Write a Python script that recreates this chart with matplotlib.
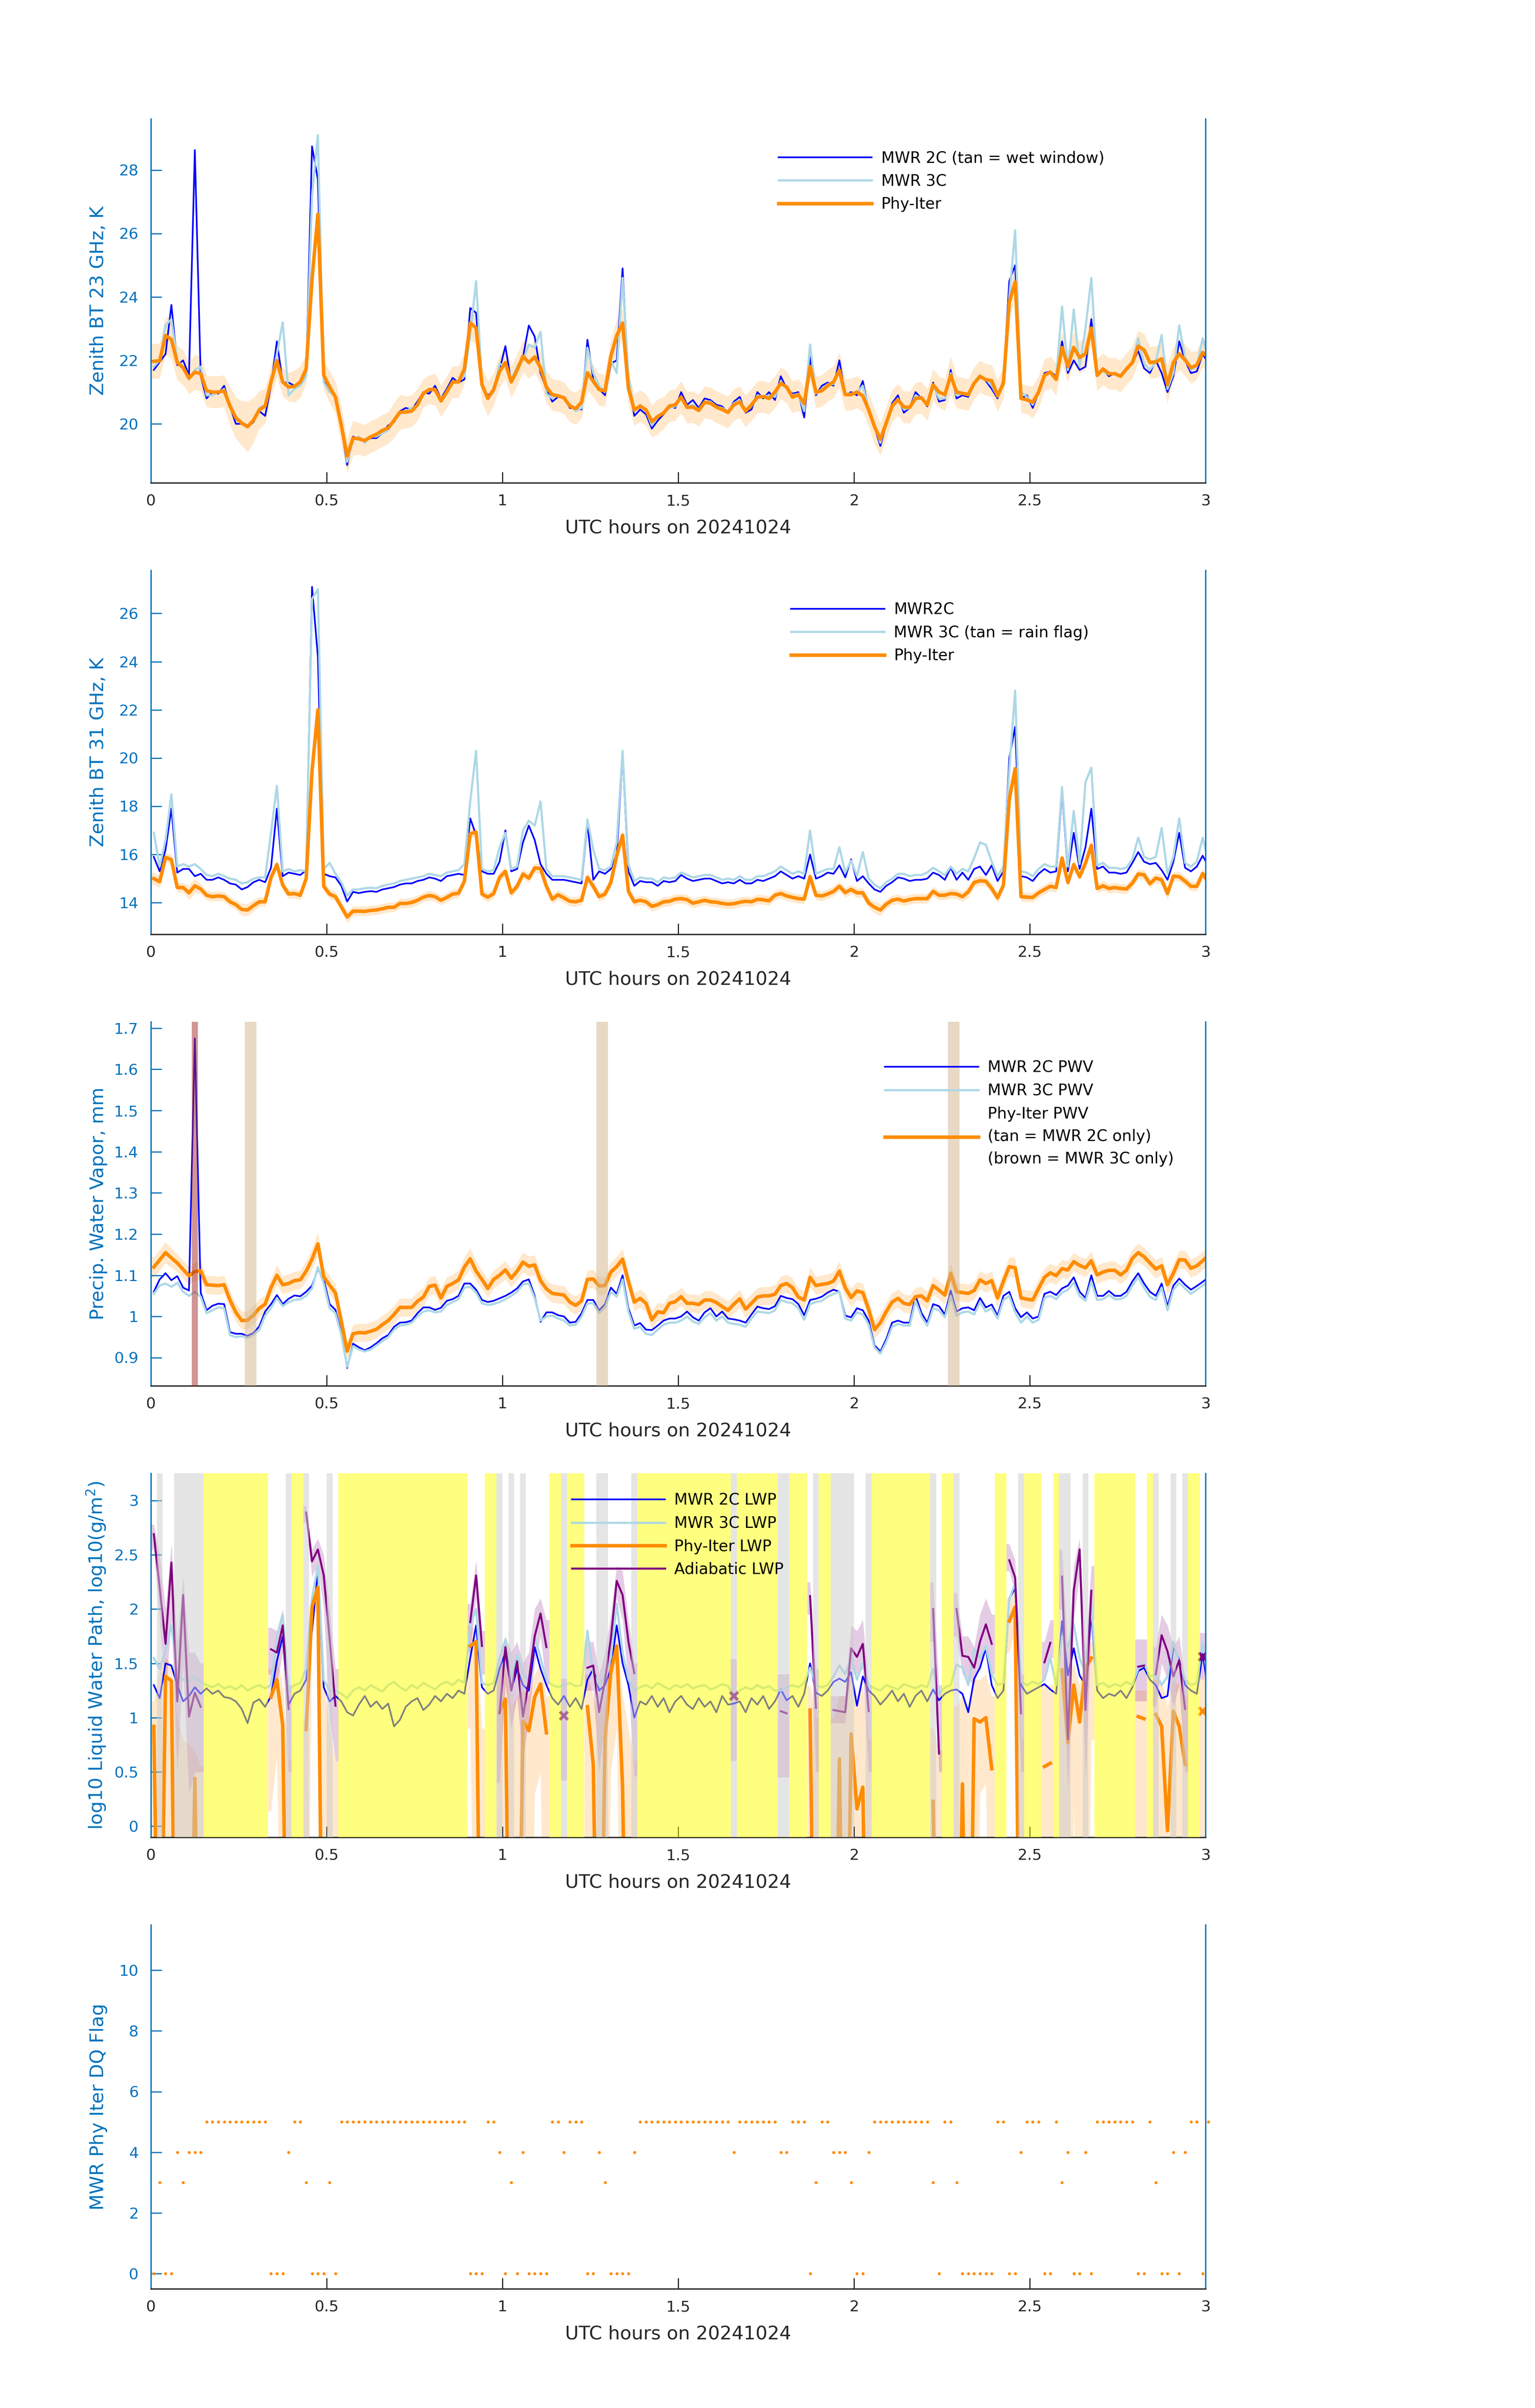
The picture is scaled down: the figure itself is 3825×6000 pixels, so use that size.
import numpy as np
import matplotlib
matplotlib.use("Agg")
import matplotlib.pyplot as plt

nan = np.nan

# one sample per minute, centred on the half minute, 00:00-03:00 UTC
MINUTE = np.arange(181)
HOURS = (MINUTE + 0.5) / 60.0
HALF = 0.5 / 60.0

# ---------------- panel 1: 23 GHz brightness temperature (K)
BT23_PHY = [
    21.97, 21.99, 22.78, 22.66, 21.93, 21.77, 21.44, 21.63, 21.58, 21.04,
    21.00, 21.00, 21.04, 20.56, 20.19, 20.02, 19.91, 20.11, 20.44, 20.56,
    21.32, 21.99, 21.32, 21.16, 21.18, 21.32, 21.73, 24.55, 26.61, 21.53,
    21.16, 20.84, 19.95, 18.98, 19.55, 19.53, 19.47, 19.59, 19.67, 19.79,
    19.87, 20.11, 20.37, 20.37, 20.40, 20.60, 20.96, 21.08, 21.08, 20.72,
    21.00, 21.32, 21.32, 21.73, 23.18, 23.02, 21.24, 20.80, 21.08, 21.65,
    21.93, 21.32, 21.69, 22.13, 21.93, 22.11, 21.77, 21.16, 20.92, 20.88,
    20.82, 20.56, 20.48, 20.68, 21.61, 21.34, 21.08, 21.04, 22.13, 22.78,
    23.18, 21.12, 20.44, 20.56, 20.44, 20.07, 20.23, 20.34, 20.56, 20.60,
    20.84, 20.52, 20.53, 20.42, 20.68, 20.65, 20.53, 20.45, 20.36, 20.60,
    20.69, 20.40, 20.60, 20.84, 20.86, 20.80, 21.00, 21.28, 21.16, 20.84,
    20.92, 20.64, 21.81, 21.00, 21.04, 21.20, 21.32, 21.69, 20.92, 20.92,
    21.00, 20.88, 20.44, 19.91, 19.51, 20.03, 20.56, 20.76, 20.53, 20.52,
    20.80, 20.82, 20.60, 21.23, 21.00, 20.92, 21.53, 21.00, 20.96, 20.92,
    21.28, 21.50, 21.39, 21.36, 20.88, 21.28, 23.83, 24.47, 20.80, 20.76,
    20.68, 21.00, 21.53, 21.63, 21.40, 22.41, 21.81, 22.41, 22.09, 22.21,
    23.02, 21.53, 21.73, 21.58, 21.58, 21.50, 21.73, 21.93, 22.45, 22.33,
    21.93, 21.95, 22.05, 21.24, 21.93, 22.21, 22.01, 21.77, 21.85, 22.25,
    22.09,
]
BT23_ERR = [
    0.55, 0.55, 0.60, 0.60, 0.55, 0.55, 0.50, 0.55, 0.55, 0.50,
    0.50, 0.50, 0.50, 0.60, 0.65, 0.70, 0.80, 0.70, 0.60, 0.55,
    0.50, 0.50, 0.45, 0.45, 0.50, 0.50, 0.45, 0.40, 0.35, 0.45,
    0.50, 0.50, 0.60, 0.55, 0.55, 0.50, 0.50, 0.50, 0.50, 0.50,
    0.50, 0.55, 0.55, 0.50, 0.50, 0.50, 0.45, 0.45, 0.50, 0.50,
    0.50, 0.50, 0.50, 0.50, 0.55, 0.50, 0.55, 0.55, 0.50, 0.50,
    0.50, 0.50, 0.50, 0.50, 0.50, 0.50, 0.50, 0.50, 0.50, 0.50,
    0.50, 0.50, 0.50, 0.50, 0.55, 0.50, 0.50, 0.50, 0.50, 0.50,
    0.45, 0.50, 0.50, 0.50, 0.50, 0.50, 0.55, 0.50, 0.50, 0.50,
    0.50, 0.50, 0.50, 0.50, 0.50, 0.50, 0.50, 0.50, 0.50, 0.50,
    0.50, 0.50, 0.50, 0.50, 0.50, 0.50, 0.50, 0.50, 0.50, 0.50,
    0.50, 0.50, 0.45, 0.50, 0.50, 0.50, 0.50, 0.55, 0.50, 0.50,
    0.50, 0.50, 0.50, 0.55, 0.50, 0.50, 0.50, 0.50, 0.50, 0.50,
    0.50, 0.50, 0.50, 0.50, 0.50, 0.50, 0.60, 0.50, 0.50, 0.50,
    0.50, 0.50, 0.50, 0.50, 0.50, 0.50, 0.50, 0.45, 0.45, 0.45,
    0.50, 0.50, 0.50, 0.50, 0.50, 0.50, 0.50, 0.50, 0.50, 0.50,
    0.50, 0.50, 0.50, 0.50, 0.50, 0.50, 0.50, 0.50, 0.50, 0.50,
    0.50, 0.50, 0.50, 0.60, 0.50, 0.50, 0.50, 0.50, 0.45, 0.45,
    0.45,
]
BT23_2C = [
    21.70, 21.95, 22.20, 23.75, 21.85, 22.00, 21.53, 28.63, 21.50, 20.80,
    21.00, 20.95, 21.20, 20.55, 20.00, 20.00, 19.90, 20.05, 20.40, 20.25,
    21.20, 22.60, 21.30, 21.30, 21.20, 21.30, 21.50, 28.75, 27.70, 21.40,
    21.10, 20.90, 19.90, 18.70, 19.60, 19.50, 19.45, 19.55, 19.55, 19.70,
    19.95, 20.05, 20.40, 20.50, 20.45, 20.70, 21.00, 20.95, 21.20, 20.80,
    21.10, 21.45, 21.30, 21.40, 23.65, 23.50, 21.20, 20.90, 21.05, 21.70,
    22.45, 21.30, 21.80, 22.10, 23.10, 22.75, 21.60, 21.10, 20.70, 20.85,
    20.85, 20.50, 20.50, 20.45, 22.65, 21.40, 21.10, 20.90, 21.90, 22.00,
    24.90, 21.30, 20.25, 20.45, 20.30, 19.85, 20.10, 20.30, 20.55, 20.50,
    21.00, 20.60, 20.75, 20.50, 20.80, 20.75, 20.60, 20.55, 20.35, 20.70,
    20.85, 20.35, 20.45, 21.00, 20.80, 21.00, 20.75, 21.50, 21.10, 20.95,
    21.00, 20.20, 22.10, 20.90, 21.20, 21.30, 21.20, 22.00, 20.90, 21.00,
    20.90, 21.35, 20.40, 19.90, 19.30, 20.00, 20.65, 20.90, 20.35, 20.50,
    21.00, 20.80, 20.55, 21.30, 20.70, 20.75, 21.70, 20.80, 20.90, 20.85,
    21.30, 21.50, 21.35, 21.10, 20.80, 21.40, 24.50, 25.00, 20.80, 20.90,
    20.50, 21.00, 21.60, 21.65, 21.50, 22.60, 21.60, 22.00, 21.70, 21.80,
    23.30, 21.50, 21.70, 21.50, 21.60, 21.50, 21.70, 21.90, 22.30, 21.75,
    21.60, 22.00, 21.60, 21.00, 21.50, 22.60, 22.00, 21.60, 21.65, 22.20,
    21.90,
]
BT23_3C = [
    21.80, 22.00, 23.10, 23.30, 22.00, 21.80, 21.40, 21.70, 21.80, 20.90,
    20.90, 21.00, 21.10, 20.60, 20.20, 20.05, 19.95, 20.10, 20.50, 20.60,
    21.30, 22.20, 23.20, 20.90, 21.10, 21.20, 21.50, 27.20, 29.10, 21.30,
    21.00, 20.90, 20.00, 18.80, 19.50, 19.60, 19.40, 19.60, 19.60, 19.70,
    19.80, 20.10, 20.30, 20.40, 20.50, 20.60, 20.90, 21.10, 21.10, 20.80,
    21.00, 21.30, 21.35, 21.50, 22.80, 24.50, 21.30, 20.80, 21.00, 21.90,
    21.80, 21.40, 21.80, 22.00, 22.50, 22.40, 22.90, 20.95, 20.80, 20.90,
    20.80, 20.60, 20.40, 20.50, 22.40, 21.60, 21.20, 21.00, 22.00, 21.60,
    24.60, 21.50, 20.40, 20.60, 20.40, 19.95, 20.20, 20.35, 20.50, 20.55,
    20.85, 20.55, 20.60, 20.45, 20.70, 20.70, 20.55, 20.50, 20.40, 20.65,
    20.75, 20.45, 20.55, 20.90, 20.85, 20.90, 20.85, 21.35, 21.10, 20.90,
    20.95, 20.40, 22.50, 20.95, 21.10, 21.25, 21.25, 21.70, 20.95, 20.95,
    21.00, 21.20, 20.45, 19.95, 19.40, 20.05, 20.60, 20.80, 20.45, 20.50,
    20.90, 20.80, 20.60, 21.20, 20.80, 20.80, 21.60, 20.90, 20.95, 20.90,
    21.30, 21.45, 21.40, 21.20, 20.85, 21.35, 24.00, 26.10, 21.00, 20.85,
    20.60, 21.00, 21.55, 21.60, 21.45, 23.70, 21.70, 23.60, 21.80, 23.00,
    24.60, 21.60, 21.65, 21.55, 21.60, 21.50, 21.75, 21.95, 22.70, 21.90,
    21.70, 21.95, 22.80, 21.10, 21.60, 23.10, 22.10, 21.70, 21.80, 22.70,
    22.00,
]

# ---------------- panel 2: 31 GHz brightness temperature (K)
BT31_PHY = [
    15.00, 14.87, 15.88, 15.79, 14.63, 14.63, 14.41, 14.70, 14.57, 14.31,
    14.25, 14.28, 14.25, 14.04, 13.92, 13.72, 13.70, 13.88, 14.04, 14.04,
    15.05, 15.58, 14.73, 14.36, 14.38, 14.31, 15.00, 19.46, 22.00, 14.68,
    14.36, 14.25, 13.83, 13.41, 13.65, 13.65, 13.64, 13.68, 13.70, 13.75,
    13.81, 13.81, 13.97, 13.97, 14.01, 14.10, 14.23, 14.30, 14.25, 14.10,
    14.22, 14.36, 14.39, 14.89, 16.86, 16.93, 14.36, 14.23, 14.38, 15.05,
    15.30, 14.41, 14.68, 15.19, 15.02, 15.44, 15.42, 14.68, 14.15, 14.33,
    14.20, 14.06, 14.04, 14.10, 15.05, 14.68, 14.25, 14.36, 14.84, 15.95,
    16.80, 14.47, 14.04, 14.10, 14.04, 13.85, 13.92, 14.04, 14.06, 14.15,
    14.17, 14.13, 13.98, 14.04, 14.10, 14.04, 14.02, 13.97, 13.94, 13.96,
    14.02, 14.06, 14.04, 14.14, 14.12, 14.08, 14.31, 14.38, 14.28, 14.22,
    14.17, 14.15, 15.08, 14.31, 14.28, 14.36, 14.47, 14.68, 14.42, 14.55,
    14.41, 14.41, 13.99, 13.81, 13.70, 13.94, 14.10, 14.15, 14.07, 14.13,
    14.17, 14.17, 14.17, 14.47, 14.31, 14.31, 14.38, 14.36, 14.25, 14.45,
    14.84, 14.91, 14.89, 14.59, 14.20, 14.73, 18.29, 19.56, 14.25, 14.23,
    14.22, 14.41, 14.55, 14.68, 14.63, 15.85, 14.84, 15.58, 15.08, 15.64,
    16.38, 14.59, 14.70, 14.59, 14.63, 14.59, 14.57, 14.81, 15.19, 15.16,
    14.79, 15.02, 14.95, 14.38, 15.10, 15.08, 14.89, 14.68, 14.68, 15.21,
    14.84,
]
BT31_ERR = [
    0.25, 0.25, 0.20, 0.20, 0.20, 0.20, 0.30, 0.30, 0.20, 0.20,
    0.20, 0.20, 0.20, 0.20, 0.20, 0.25, 0.25, 0.25, 0.20, 0.20,
    0.20, 0.20, 0.20, 0.20, 0.20, 0.20, 0.20, 0.20, 0.20, 0.20,
    0.20, 0.20, 0.20, 0.25, 0.20, 0.20, 0.20, 0.20, 0.20, 0.20,
    0.20, 0.20, 0.20, 0.20, 0.20, 0.20, 0.20, 0.20, 0.20, 0.20,
    0.20, 0.20, 0.20, 0.20, 0.20, 0.20, 0.20, 0.20, 0.20, 0.20,
    0.20, 0.20, 0.20, 0.20, 0.20, 0.20, 0.20, 0.20, 0.20, 0.20,
    0.20, 0.20, 0.20, 0.20, 0.20, 0.20, 0.20, 0.20, 0.20, 0.20,
    0.20, 0.20, 0.20, 0.20, 0.20, 0.20, 0.20, 0.20, 0.20, 0.20,
    0.20, 0.20, 0.20, 0.20, 0.20, 0.20, 0.20, 0.20, 0.20, 0.20,
    0.20, 0.20, 0.20, 0.20, 0.20, 0.20, 0.20, 0.20, 0.20, 0.20,
    0.20, 0.20, 0.20, 0.20, 0.20, 0.20, 0.20, 0.20, 0.20, 0.20,
    0.20, 0.20, 0.20, 0.25, 0.25, 0.20, 0.20, 0.20, 0.20, 0.20,
    0.20, 0.20, 0.20, 0.20, 0.20, 0.20, 0.20, 0.20, 0.20, 0.25,
    0.20, 0.20, 0.20, 0.20, 0.20, 0.20, 0.20, 0.20, 0.20, 0.20,
    0.20, 0.20, 0.20, 0.20, 0.20, 0.20, 0.20, 0.20, 0.20, 0.20,
    0.20, 0.20, 0.20, 0.20, 0.20, 0.20, 0.20, 0.20, 0.20, 0.20,
    0.20, 0.20, 0.20, 0.25, 0.20, 0.20, 0.20, 0.20, 0.20, 0.20,
    0.20,
]
BT31_2C = [
    15.90, 15.30, 16.20, 17.90, 15.25, 15.40, 15.40, 15.10, 15.20, 14.95,
    14.95, 15.05, 14.95, 14.80, 14.75, 14.55, 14.65, 14.85, 14.95, 14.85,
    15.45, 17.90, 15.10, 15.25, 15.20, 15.15, 15.35, 27.10, 24.20, 15.20,
    15.10, 15.05, 14.70, 14.05, 14.45, 14.40, 14.45, 14.48, 14.45, 14.55,
    14.60, 14.65, 14.75, 14.80, 14.80, 14.90, 14.95, 15.05, 15.00, 14.90,
    15.10, 15.15, 15.20, 15.15, 17.50, 16.80, 15.30, 15.20, 15.20, 15.70,
    17.00, 15.30, 15.40, 16.50, 17.20, 16.60, 15.60, 15.20, 14.95, 14.95,
    14.95, 14.90, 14.85, 14.80, 17.30, 14.95, 15.30, 15.20, 15.40, 16.00,
    20.20, 15.30, 14.70, 14.90, 14.85, 14.85, 14.70, 14.90, 14.85, 14.90,
    15.15, 15.00, 14.90, 14.95, 15.00, 15.00, 14.90, 14.80, 14.85, 14.80,
    14.95, 14.80, 14.80, 14.95, 14.90, 15.00, 15.10, 15.30, 15.15, 15.00,
    15.10, 15.00, 16.00, 15.00, 15.10, 15.25, 15.20, 15.55, 15.05, 15.80,
    14.90, 15.10, 14.80, 14.55, 14.45, 14.70, 14.85, 15.05, 15.00, 14.90,
    14.95, 14.95, 15.00, 15.25, 15.15, 14.95, 15.45, 14.95, 15.25, 14.95,
    15.40, 15.50, 15.15, 15.55, 14.90, 15.30, 20.00, 21.30, 15.10, 15.05,
    14.90, 15.20, 15.40, 15.25, 15.30, 18.60, 15.30, 16.90, 15.40, 16.30,
    17.90, 15.40, 15.50, 15.25, 15.25, 15.20, 15.25, 15.65, 16.10, 15.70,
    15.60, 15.65, 15.35, 14.95, 15.70, 16.90, 15.45, 15.30, 15.50, 15.95,
    15.50,
]
BT31_3C = [
    16.90, 15.50, 16.60, 18.50, 15.50, 15.60, 15.50, 15.60, 15.40, 15.15,
    15.10, 15.20, 15.10, 15.00, 14.95, 14.80, 14.85, 15.00, 15.05, 15.05,
    16.90, 18.85, 15.30, 15.40, 15.30, 15.35, 15.30, 26.60, 27.00, 15.40,
    15.65, 15.20, 14.85, 14.30, 14.55, 14.55, 14.60, 14.62, 14.60, 14.70,
    14.75, 14.80, 14.90, 14.95, 15.00, 15.05, 15.10, 15.20, 15.15, 15.10,
    15.25, 15.30, 15.35, 15.60, 18.20, 20.30, 15.40, 15.30, 15.35, 16.30,
    16.90, 15.40, 15.50, 17.00, 17.40, 17.20, 18.20, 15.40, 15.10, 15.10,
    15.10, 15.05, 15.00, 14.95, 17.45, 16.20, 15.40, 15.35, 15.50, 16.50,
    20.30, 15.60, 14.90, 15.05, 15.00, 15.00, 14.85, 15.05, 15.00, 15.05,
    15.25, 15.15, 15.05, 15.10, 15.15, 15.15, 15.05, 14.95, 15.00, 14.95,
    15.10, 14.95, 14.95, 15.10, 15.10, 15.20, 15.30, 15.50, 15.35, 15.20,
    15.30, 15.20, 17.00, 15.20, 15.30, 15.40, 15.40, 16.30, 15.25, 15.75,
    15.10, 16.10, 15.00, 14.75, 14.60, 14.85, 15.00, 15.20, 15.20, 15.10,
    15.15, 15.15, 15.25, 15.45, 15.30, 15.15, 15.50, 15.20, 15.40, 15.30,
    15.85, 16.50, 16.40, 15.70, 15.10, 15.50, 19.50, 22.80, 15.30, 15.25,
    15.10, 15.40, 15.60, 15.50, 15.50, 18.80, 15.50, 17.80, 15.60, 19.00,
    19.60, 15.55, 15.65, 15.45, 15.45, 15.40, 15.45, 15.80, 16.70, 15.90,
    15.80, 15.90, 17.10, 15.20, 15.90, 17.50, 15.65, 15.50, 15.70, 16.70,
    15.70,
]

# ---------------- panel 3: precipitable water vapour (mm)
PWV_PHY = [
    1.120, 1.137, 1.155, 1.142, 1.130, 1.114, 1.099, 1.109, 1.111, 1.077,
    1.076, 1.075, 1.077, 1.040, 1.010, 0.990, 0.991, 1.003, 1.020, 1.030,
    1.070, 1.100, 1.077, 1.080, 1.087, 1.089, 1.110, 1.139, 1.176, 1.096,
    1.076, 1.057, 0.988, 0.916, 0.958, 0.961, 0.960, 0.964, 0.969, 0.980,
    0.990, 1.005, 1.022, 1.022, 1.022, 1.037, 1.047, 1.073, 1.076, 1.045,
    1.073, 1.080, 1.089, 1.120, 1.140, 1.110, 1.090, 1.068, 1.090, 1.100,
    1.113, 1.093, 1.110, 1.132, 1.122, 1.125, 1.087, 1.067, 1.056, 1.054,
    1.052, 1.035, 1.027, 1.038, 1.090, 1.091, 1.074, 1.075, 1.108, 1.121,
    1.139, 1.085, 1.035, 1.044, 1.032, 0.992, 1.011, 1.009, 1.032, 1.036,
    1.048, 1.032, 1.032, 1.029, 1.040, 1.040, 1.034, 1.024, 1.015, 1.030,
    1.043, 1.018, 1.032, 1.047, 1.050, 1.050, 1.054, 1.075, 1.080, 1.070,
    1.047, 1.040, 1.095, 1.075, 1.078, 1.080, 1.086, 1.110, 1.070, 1.046,
    1.062, 1.058, 1.017, 0.968, 0.985, 1.012, 1.035, 1.044, 1.032, 1.029,
    1.048, 1.050, 1.038, 1.075, 1.064, 1.052, 1.105, 1.060, 1.058, 1.056,
    1.063, 1.089, 1.080, 1.087, 1.045, 1.086, 1.121, 1.118, 1.045, 1.042,
    1.040, 1.068, 1.095, 1.106, 1.099, 1.116, 1.113, 1.133, 1.124, 1.118,
    1.135, 1.101, 1.108, 1.112, 1.112, 1.101, 1.112, 1.141, 1.155, 1.145,
    1.130, 1.115, 1.123, 1.077, 1.105, 1.138, 1.137, 1.117, 1.123, 1.135,
    1.149,
]
PWV_ERR = [
    0.025, 0.025, 0.025, 0.024, 0.022, 0.022, 0.022, 0.022, 0.022, 0.022,
    0.022, 0.022, 0.022, 0.022, 0.022, 0.022, 0.022, 0.022, 0.022, 0.022,
    0.022, 0.025, 0.022, 0.022, 0.022, 0.022, 0.024, 0.026, 0.028, 0.024,
    0.022, 0.022, 0.022, 0.022, 0.022, 0.022, 0.022, 0.022, 0.022, 0.022,
    0.022, 0.022, 0.022, 0.022, 0.022, 0.022, 0.022, 0.022, 0.022, 0.022,
    0.022, 0.022, 0.022, 0.024, 0.026, 0.024, 0.022, 0.022, 0.022, 0.022,
    0.022, 0.022, 0.022, 0.024, 0.024, 0.024, 0.022, 0.022, 0.022, 0.022,
    0.022, 0.022, 0.022, 0.022, 0.022, 0.022, 0.022, 0.022, 0.024, 0.024,
    0.026, 0.022, 0.022, 0.022, 0.022, 0.022, 0.022, 0.022, 0.022, 0.022,
    0.022, 0.022, 0.022, 0.022, 0.022, 0.022, 0.022, 0.022, 0.022, 0.022,
    0.022, 0.022, 0.022, 0.022, 0.022, 0.022, 0.022, 0.022, 0.022, 0.022,
    0.022, 0.022, 0.024, 0.022, 0.022, 0.022, 0.022, 0.024, 0.022, 0.022,
    0.022, 0.022, 0.022, 0.022, 0.022, 0.022, 0.022, 0.022, 0.022, 0.022,
    0.022, 0.022, 0.022, 0.022, 0.022, 0.022, 0.024, 0.022, 0.022, 0.022,
    0.022, 0.022, 0.022, 0.022, 0.022, 0.022, 0.024, 0.024, 0.022, 0.022,
    0.022, 0.022, 0.022, 0.022, 0.022, 0.022, 0.022, 0.022, 0.022, 0.022,
    0.022, 0.022, 0.022, 0.022, 0.022, 0.022, 0.022, 0.022, 0.022, 0.022,
    0.022, 0.022, 0.022, 0.022, 0.022, 0.022, 0.022, 0.022, 0.022, 0.022,
    0.022,
]
PWV_2C = [
    1.060, 1.090, 1.105, 1.088, 1.098, 1.070, 1.063, 1.675, 1.058, 1.015,
    1.026, 1.031, 1.030, 0.962, 0.958, 0.958, 0.953, 0.960, 0.976, 1.012,
    1.030, 1.052, 1.030, 1.043, 1.051, 1.049, 1.060, 1.075, 1.115, 1.090,
    1.030, 1.016, 0.960, 0.875, 0.934, 0.925, 0.918, 0.925, 0.935, 0.947,
    0.955, 0.975, 0.985, 0.986, 0.990, 1.008, 1.022, 1.022, 1.016, 1.021,
    1.038, 1.042, 1.050, 1.080, 1.080, 1.065, 1.040, 1.035, 1.038, 1.044,
    1.050, 1.058, 1.068, 1.085, 1.090, 1.050, 0.987, 1.010, 1.010, 1.003,
    1.000, 0.985, 0.987, 1.008, 1.040, 1.040, 1.015, 1.030, 1.070, 1.055,
    1.100, 1.020, 0.978, 0.984, 0.968, 0.967, 0.978, 0.990, 0.995, 0.995,
    1.000, 1.012, 0.998, 0.990, 1.010, 1.020, 1.000, 1.012, 0.995, 0.993,
    0.990, 0.985, 1.005, 1.024, 1.020, 1.018, 1.025, 1.050, 1.045, 1.042,
    1.030, 1.003, 1.040, 1.043, 1.048, 1.058, 1.065, 1.060, 1.002, 0.998,
    1.020, 1.015, 0.990, 0.930, 0.915, 0.945, 0.985, 0.990, 0.985, 0.985,
    1.050, 1.009, 0.985, 1.030, 1.025, 1.005, 1.063, 1.012, 1.020, 1.022,
    1.015, 1.045, 1.022, 1.029, 1.002, 1.050, 1.060, 1.020, 0.998, 1.010,
    0.995, 1.000, 1.055, 1.060, 1.052, 1.068, 1.075, 1.095, 1.060, 1.045,
    1.100, 1.050, 1.050, 1.062, 1.050, 1.050, 1.060, 1.085, 1.105, 1.080,
    1.060, 1.050, 1.080, 1.025, 1.075, 1.092, 1.077, 1.065, 1.074, 1.084,
    1.095,
]
PWV_3C = [
    1.055, 1.075, 1.080, 1.072, 1.082, 1.060, 1.050, 1.060, 1.048, 1.008,
    1.015, 1.022, 1.020, 0.955, 0.950, 0.952, 0.948, 0.955, 0.968, 1.002,
    1.020, 1.045, 1.025, 1.035, 1.040, 1.042, 1.050, 1.068, 1.120, 1.080,
    1.020, 1.008, 0.955, 0.878, 0.928, 0.920, 0.915, 0.920, 0.930, 0.940,
    0.950, 0.968, 0.978, 0.980, 0.985, 1.000, 1.012, 1.015, 1.010, 1.012,
    1.028, 1.035, 1.042, 1.070, 1.072, 1.058, 1.032, 1.028, 1.030, 1.035,
    1.042, 1.050, 1.060, 1.078, 1.080, 1.045, 0.990, 1.000, 1.002, 0.995,
    0.990, 0.978, 0.980, 1.000, 1.032, 1.032, 1.008, 1.022, 1.060, 1.048,
    1.090, 1.012, 0.970, 0.975, 0.958, 0.955, 0.968, 0.980, 0.985, 0.985,
    0.990, 1.000, 0.988, 0.982, 0.998, 1.008, 0.990, 1.000, 0.985, 0.982,
    0.980, 0.975, 0.995, 1.012, 1.010, 1.008, 1.015, 1.040, 1.035, 1.032,
    1.020, 0.992, 1.030, 1.035, 1.038, 1.048, 1.055, 1.060, 0.995, 0.990,
    1.010, 1.005, 0.980, 0.925, 0.910, 0.938, 0.975, 0.982, 0.978, 0.978,
    1.038, 1.000, 0.978, 1.020, 1.015, 0.998, 1.050, 1.002, 1.010, 1.012,
    1.005, 1.035, 1.012, 1.020, 0.995, 1.040, 1.050, 1.010, 0.985, 1.000,
    0.985, 0.992, 1.045, 1.050, 1.042, 1.058, 1.065, 1.082, 1.050, 1.038,
    1.085, 1.040, 1.042, 1.052, 1.042, 1.042, 1.050, 1.075, 1.095, 1.070,
    1.048, 1.040, 1.070, 1.015, 1.065, 1.082, 1.068, 1.055, 1.065, 1.075,
    1.085,
]
TAN_MINUTES = [16, 17, 76, 77, 136, 137]    # MWR 2C only
BROWN_MINUTES = [7]                         # MWR 3C only

# ---------------- panel 4: log10 liquid water path
LWP_2C = [
    1.30, 1.18, 1.50, 1.48, 1.30, 1.15, 1.20, 1.28, 1.22, 1.27,
    1.22, 1.25, 1.19, 1.18, 1.15, 1.08, 0.95, 1.14, 1.17, 1.10,
    1.20, 1.52, 1.75, 1.12, 1.22, 1.25, 1.35, 1.80, 2.35, 1.28,
    1.15, 1.20, 1.15, 1.05, 1.02, 1.12, 1.20, 1.10, 1.15, 1.08,
    1.13, 0.92, 0.98, 1.10, 1.15, 1.18, 1.07, 1.12, 1.20, 1.15,
    1.22, 1.18, 1.25, 1.22, 1.55, 1.85, 1.28, 1.22, 1.25, 1.45,
    1.60, 1.25, 1.45, 1.30, 1.25, 1.65, 1.45, 1.30, 1.18, 1.12,
    1.20, 1.10, 1.18, 1.08, 1.35, 1.45, 1.25, 1.30, 1.45, 1.85,
    1.50, 1.30, 1.00, 1.15, 1.12, 1.20, 1.10, 1.18, 1.05, 1.15,
    1.20, 1.12, 1.08, 1.18, 1.10, 1.15, 1.05, 1.20, 1.12, 1.13,
    1.15, 1.05, 1.18, 1.12, 1.20, 1.08, 1.15, 1.26, 1.16, 1.20,
    1.10, 1.22, 1.50, 1.23, 1.20, 1.25, 1.33, 1.36, 1.33, 1.42,
    1.11, 1.38, 1.25, 1.20, 1.12, 1.18, 1.25, 1.15, 1.22, 1.10,
    1.20, 1.25, 1.15, 1.26, 1.16, 1.22, 1.25, 1.26, 1.22, 1.05,
    1.36, 1.46, 1.64, 1.30, 1.18, 1.25, 2.10, 2.19, 1.30, 1.22,
    1.25, 1.28, 1.31, 1.26, 1.22, 1.89, 1.39, 1.64, 1.39, 1.30,
    1.96, 1.25, 1.18, 1.22, 1.20, 1.25, 1.18, 1.28, 1.43, 1.46,
    1.35, 1.30, 1.18, 1.20, 1.66, 1.53, 1.30, 1.25, 1.22, 1.59,
    1.23,
]
LWP_3C = [
    1.55, 1.45, 1.62, 1.85, 1.40, 1.35, 1.33, 1.38, 1.33, 1.30,
    1.28, 1.31, 1.27, 1.29, 1.26, 1.30, 1.25, 1.28, 1.30, 1.27,
    1.30, 1.75, 1.95, 1.25, 1.30, 1.32, 1.45, 2.10, 2.40, 1.35,
    1.25, 1.25, 1.22, 1.18, 1.25, 1.28, 1.25, 1.30, 1.27, 1.24,
    1.30, 1.33, 1.28, 1.25, 1.30, 1.27, 1.32, 1.29, 1.26, 1.31,
    1.33, 1.30, 1.35, 1.32, 1.85, 2.00, 1.32, 1.30, 1.32, 1.55,
    1.72, 1.35, 1.58, 1.40, 1.35, 1.75, 1.55, 1.35, 1.30, 1.28,
    1.30, 1.32, 1.29, 1.30, 1.80, 1.40, 1.30, 1.40, 1.55, 2.05,
    1.60, 1.35, 1.25, 1.28, 1.30, 1.27, 1.32, 1.29, 1.26, 1.30,
    1.28, 1.31, 1.27, 1.29, 1.30, 1.26, 1.28, 1.31, 1.29, 1.20,
    1.25, 1.28, 1.26, 1.30, 1.27, 1.29, 1.25, 1.25, 1.28, 1.30,
    1.28, 1.32, 1.46, 1.30, 1.28, 1.30, 1.38, 1.48, 1.40, 1.55,
    1.35, 1.50, 1.30, 1.27, 1.25, 1.30, 1.28, 1.26, 1.31, 1.29,
    1.27, 1.30, 1.28, 1.45, 1.22, 1.28, 1.30, 1.49, 1.46, 1.30,
    1.63, 1.55, 1.66, 1.40, 1.30, 1.32, 2.09, 2.24, 1.33, 1.30,
    1.33, 1.31, 1.35, 1.55, 1.30, 1.75, 1.65, 1.86, 1.55, 1.40,
    2.04, 1.30, 1.32, 1.28, 1.31, 1.29, 1.33, 1.30, 1.45, 1.50,
    1.38, 1.40, 1.30, 1.38, 1.70, 1.50, 1.35, 1.30, 1.32, 1.69,
    1.30,
]
LWP_PHY = [
    0.92, -2.5, 1.38, 1.34, -3.5, -3.0, -3.0, 0.44, -3.0, nan,
    nan, nan, nan, nan, nan, nan, nan, nan, nan, nan,
    1.19, 1.35, 0.93, -3.0, nan, nan, 0.89, 2.02, 2.20, -3.0,
    -3.0, -3.0, nan, nan, nan, nan, nan, nan, nan, nan,
    nan, nan, nan, nan, nan, nan, nan, nan, nan, nan,
    nan, nan, nan, nan, 1.66, 1.70, -3.0, nan, nan, 1.05,
    1.17, -3.0, -3.0, 0.97, 0.88, 1.19, 1.31, 0.86, nan, nan,
    nan, nan, nan, nan, 1.10, 0.57, -3.0, 0.81, 1.42, 1.66,
    0.36, -3.0, -3.0, nan, nan, nan, nan, nan, nan, nan,
    nan, nan, nan, nan, nan, nan, nan, nan, nan, nan,
    nan, nan, nan, nan, nan, nan, nan, nan, nan, nan,
    nan, nan, 1.07, -3.0, nan, nan, -3.0, 0.62, -3.0, 0.85,
    0.16, 0.36, -3.0, nan, nan, nan, nan, nan, nan, nan,
    nan, nan, nan, 0.23, -3.0, nan, nan, -3.0, 0.39, -3.0,
    0.99, 0.96, 1.00, 0.53, nan, nan, 1.89, 2.02, -3.0, nan,
    nan, nan, 0.55, 0.58, nan, 1.44, 0.77, 1.30, 0.96, 1.46,
    1.55, nan, nan, nan, nan, nan, nan, nan, 1.01, 0.99,
    nan, 1.03, 0.92, -0.04, 1.06, 0.92, 0.57, nan, nan, 1.06,
    nan,
]
LWP_PHY_LO = [
    -3, -3, -3, -3, -3, -3, -3, -3, -3, nan,
    nan, nan, nan, nan, nan, nan, nan, nan, nan, nan,
    0.14, 0.65, -3, -3, nan, nan, -3, 1.85, 2.05, -3,
    -3, -3, nan, nan, nan, nan, nan, nan, nan, nan,
    nan, nan, nan, nan, nan, nan, nan, nan, nan, nan,
    nan, nan, nan, nan, 0.90, -3, -3, nan, nan, -3,
    -3, -3, -3, -3, -3, 0.30, 0.50, -3, nan, nan,
    nan, nan, nan, nan, -3, -3, -3, -3, 0.50, 0.90,
    -3, -3, -3, nan, nan, nan, nan, nan, nan, nan,
    nan, nan, nan, nan, nan, nan, nan, nan, nan, nan,
    nan, nan, nan, nan, nan, nan, nan, nan, nan, nan,
    nan, nan, -3, -3, nan, nan, -3, -3, -3, -3,
    -3, -3, -3, nan, nan, nan, nan, nan, nan, nan,
    nan, nan, nan, -3, -3, nan, nan, -3, -3, -3,
    -3, 0.30, 0.40, -3, nan, nan, 1.60, 1.80, -3, nan,
    nan, nan, -3, -3, nan, -3, -3, 0.20, -3, -3,
    0.80, nan, nan, nan, nan, nan, nan, nan, -3, -3,
    nan, -3, -3, -3, -3, -3, -3, nan, nan, -3,
    nan,
]
LWP_PHY_HI = [
    1.15, 1.45, 1.55, 1.50, 1.00, 0.80, 0.75, 0.70, 0.55, nan,
    nan, nan, nan, nan, nan, nan, nan, nan, nan, nan,
    1.45, 1.55, 1.30, 0.60, nan, nan, 1.00, 2.15, 2.30, 1.30,
    0.90, 0.60, nan, nan, nan, nan, nan, nan, nan, nan,
    nan, nan, nan, nan, nan, nan, nan, nan, nan, nan,
    nan, nan, nan, nan, 1.85, 1.80, 0.90, nan, nan, 1.45,
    1.50, 1.10, 1.20, 1.25, 1.20, 1.40, 1.50, 1.20, nan, nan,
    nan, nan, nan, nan, 1.40, 1.20, 1.00, 1.20, 1.60, 1.80,
    1.20, 0.90, 0.60, nan, nan, nan, nan, nan, nan, nan,
    nan, nan, nan, nan, nan, nan, nan, nan, nan, nan,
    nan, nan, nan, nan, nan, nan, nan, nan, nan, nan,
    nan, nan, 1.30, 1.00, nan, nan, 1.00, 1.20, 1.20, 1.40,
    1.20, 1.30, 0.80, nan, nan, nan, nan, nan, nan, nan,
    nan, nan, nan, 0.90, 0.70, nan, nan, 1.10, 1.20, 1.10,
    1.35, 1.35, 1.40, 1.20, nan, nan, 2.10, 2.20, 0.80, nan,
    nan, nan, 1.30, 1.30, nan, 1.60, 1.30, 1.50, 1.30, 1.60,
    1.70, nan, nan, nan, nan, nan, nan, nan, 1.25, 1.25,
    nan, 1.35, 1.35, 1.10, 1.35, 1.30, 1.20, nan, nan, 1.35,
    nan,
]
LWP_ADI = [
    2.69, 2.20, 1.68, 2.43, 1.15, 2.13, 1.01, 1.23, 1.10, nan,
    nan, nan, nan, nan, nan, nan, nan, nan, nan, nan,
    1.63, 1.60, 1.85, 1.08, nan, nan, 2.89, 2.44, 2.55, 2.31,
    1.73, 1.11, nan, nan, nan, nan, nan, nan, nan, nan,
    nan, nan, nan, nan, nan, nan, nan, nan, nan, nan,
    nan, nan, nan, nan, 1.88, 2.31, 1.66, nan, nan, 1.04,
    1.65, 1.25, 1.52, 1.01, 1.34, 1.75, 1.96, 1.65, nan, nan,
    1.02, nan, nan, nan, 1.46, 1.48, 1.05, 1.34, 1.73, 2.26,
    2.13, 1.70, 1.41, nan, nan, nan, nan, nan, nan, nan,
    nan, nan, nan, nan, nan, nan, nan, nan, nan, 1.20,
    nan, nan, nan, nan, nan, nan, nan, 1.06, 1.04, nan,
    nan, nan, 2.12, 1.09, nan, nan, 1.07, 1.06, 1.05, 1.64,
    1.56, 1.68, 1.06, nan, nan, nan, nan, nan, nan, nan,
    nan, nan, nan, 2.00, 0.67, nan, nan, 2.00, 1.57, 1.56,
    1.46, 1.70, 1.86, 1.68, nan, nan, 2.45, 2.29, 1.04, nan,
    nan, nan, 1.51, 1.69, nan, 2.30, 0.80, 2.17, 2.55, 1.07,
    2.17, nan, nan, nan, nan, nan, nan, nan, 1.47, 1.48,
    nan, 1.40, 1.76, 1.61, 1.38, 1.53, 1.08, nan, nan, 1.56,
    nan,
]
LWP_ADI_LO = [
    2.55, 1.90, 1.20, 1.90, 0.50, 1.50, 0.30, 0.50, 0.50, nan,
    nan, nan, nan, nan, nan, nan, nan, nan, nan, nan,
    1.40, 1.30, 1.60, 0.50, nan, nan, 2.80, 2.30, 2.40, 2.00,
    1.00, 0.60, nan, nan, nan, nan, nan, nan, nan, nan,
    nan, nan, nan, nan, nan, nan, nan, nan, nan, nan,
    nan, nan, nan, nan, 1.60, 2.10, 1.40, nan, nan, 0.40,
    1.30, 0.90, 1.20, 0.60, 1.00, 1.50, 1.75, 1.30, nan, nan,
    0.42, nan, nan, nan, 1.25, 1.25, 0.50, 1.00, 1.50, 2.10,
    1.90, 1.30, 0.46, nan, nan, nan, nan, nan, nan, nan,
    nan, nan, nan, nan, nan, nan, nan, nan, nan, 0.60,
    nan, nan, nan, nan, nan, nan, nan, 0.45, 0.45, nan,
    nan, nan, 1.95, 0.50, nan, nan, 0.95, 0.95, 0.95, 1.45,
    1.40, 1.45, 0.50, nan, nan, nan, nan, nan, nan, nan,
    nan, nan, nan, 1.70, 0.50, nan, nan, 1.75, 1.40, 1.35,
    1.30, 1.50, 1.65, 1.40, nan, nan, 2.35, 2.15, 0.50, nan,
    nan, nan, 1.35, 1.55, nan, 2.00, 0.30, 1.90, 2.30, 0.40,
    1.90, nan, nan, nan, nan, nan, nan, nan, 1.15, 1.15,
    nan, 1.10, 1.50, 1.35, 1.10, 1.30, 0.50, nan, nan, 1.35,
    nan,
]
LWP_ADI_HI = [
    2.78, 2.50, 2.00, 2.60, 1.70, 2.30, 1.60, 1.60, 1.50, nan,
    nan, nan, nan, nan, nan, nan, nan, nan, nan, nan,
    1.83, 1.80, 2.00, 1.30, nan, nan, 2.95, 2.55, 2.65, 2.50,
    2.00, 1.45, nan, nan, nan, nan, nan, nan, nan, nan,
    nan, nan, nan, nan, nan, nan, nan, nan, nan, nan,
    nan, nan, nan, nan, 2.05, 2.45, 1.80, nan, nan, 1.50,
    1.75, 1.60, 1.70, 1.50, 1.60, 2.00, 2.10, 1.90, nan, nan,
    1.36, nan, nan, nan, 1.70, 1.70, 1.40, 1.60, 1.95, 2.40,
    2.35, 1.90, 1.50, nan, nan, nan, nan, nan, nan, nan,
    nan, nan, nan, nan, nan, nan, nan, nan, nan, 1.54,
    nan, nan, nan, nan, nan, nan, nan, 1.40, 1.40, nan,
    nan, nan, 2.25, 1.45, nan, nan, 1.20, 1.20, 1.20, 1.85,
    1.80, 1.90, 1.30, nan, nan, nan, nan, nan, nan, nan,
    nan, nan, nan, 2.25, 1.30, nan, nan, 2.15, 1.75, 1.75,
    1.65, 1.95, 2.10, 1.95, nan, nan, 2.60, 2.45, 1.40, nan,
    nan, nan, 1.70, 1.90, nan, 2.55, 1.60, 2.40, 2.65, 1.60,
    2.40, nan, nan, nan, nan, nan, nan, nan, 1.72, 1.72,
    nan, 1.65, 1.95, 1.85, 1.65, 1.75, 1.35, nan, nan, 1.78,
    nan,
]

# ---------------- panel 5: Phy-Iter data quality flag
DQ_FLAG = [
    0, 3, 0, 0, 4, 3, 4, 4, 4, 5,
    5, 5, 5, 5, 5, 5, 5, 5, 5, 5,
    0, 0, 0, 4, 5, 5, 3, 0, 0, 0,
    3, 0, 5, 5, 5, 5, 5, 5, 5, 5,
    5, 5, 5, 5, 5, 5, 5, 5, 5, 5,
    5, 5, 5, 5, 0, 0, 0, 5, 5, 4,
    0, 3, 0, 4, 0, 0, 0, 0, 5, 5,
    4, 5, 5, 5, 0, 0, 4, 3, 0, 0,
    0, 0, 4, 5, 5, 5, 5, 5, 5, 5,
    5, 5, 5, 5, 5, 5, 5, 5, 5, 4,
    5, 5, 5, 5, 5, 5, 5, 4, 4, 5,
    5, 5, 0, 3, 5, 5, 4, 4, 4, 3,
    0, 0, 4, 5, 5, 5, 5, 5, 5, 5,
    5, 5, 5, 3, 0, 5, 5, 3, 0, 0,
    0, 0, 0, 0, 5, 5, 0, 0, 4, 5,
    5, 5, 0, 0, 5, 3, 4, 0, 0, 4,
    0, 5, 5, 5, 5, 5, 5, 5, 0, 0,
    5, 3, 0, 0, 4, 0, 4, 5, 5, 0,
    5,
]

AX_BLUE = "#0072BD"
DARK = "#262626"
BLUE = "#0000FF"
LIGHTBLUE = "#ADD8E6"
ORANGE = "#FF8C00"
PURPLE = "#800080"
XTICKS = [0, 0.5, 1, 1.5, 2, 2.5, 3]

LEFT, WIDTH, HEIGHT = 0.0983, 0.6871, 0.1512
BOTTOMS = [0.7995, 0.612, 0.4245, 0.237, 0.0495]


def runs_of(values):
    """(first, last, value) for every run of equal consecutive entries."""
    out, start = [], 0
    for i in range(1, len(values) + 1):
        if i == len(values) or values[i] != values[start]:
            out.append((start, i - 1, values[start]))
            start = i
    return out


def fill_band(ax, lo, hi, color, alpha=0.2):
    """Shade lo..hi; each contiguous run is widened by half a minute at its ends."""
    lo = np.asarray(lo, float)
    hi = np.asarray(hi, float)
    valid = list(np.isfinite(lo) & np.isfinite(hi))
    for a, b, ok in runs_of(valid):
        if not ok:
            continue
        x = np.r_[HOURS[a] - HALF, HOURS[a:b + 1], HOURS[b] + HALF]
        ylo = np.r_[lo[a], lo[a:b + 1], lo[b]]
        yhi = np.r_[hi[a], hi[a:b + 1], hi[b]]
        ax.fill_between(x, ylo, yhi, color=color, alpha=alpha, lw=0, zorder=1)


def shade_minutes(ax, categories, colors):
    for a, b, cat in runs_of(categories):
        if cat in colors:
            ax.axvspan(MINUTE[a] / 60.0, (MINUTE[b] + 1) / 60.0, color=colors[cat],
                       alpha=0.5, lw=0, zorder=3)


def mark_isolated(ax, values, color):
    v = np.asarray(values, float)
    ok = np.isfinite(v)
    lone = ok & ~np.r_[False, ok[:-1]] & ~np.r_[ok[1:], False]
    ax.plot(HOURS[lone], v[lone], "x", color=color, ms=5, mew=1.8, zorder=2.5)


def setup(ax, ylim, yticks, ylabel):
    ax.set_xlim(0, 3)
    ax.set_ylim(*ylim)
    ax.set_xticks(XTICKS)
    ax.set_xticklabels([f"{v:g}" for v in XTICKS])
    ax.set_yticks(yticks)
    ax.set_yticklabels([f"{v:g}" for v in yticks])
    ax.spines["top"].set_visible(False)
    for side in ("left", "right"):
        ax.spines[side].set_color(AX_BLUE)
        ax.spines[side].set_linewidth(0.8)
    ax.spines["bottom"].set_color(DARK)
    ax.spines["bottom"].set_linewidth(0.8)
    ax.tick_params(axis="x", direction="in", length=6.5, width=0.7, colors=DARK,
                   labelsize=9.2, pad=6.8)
    ax.tick_params(axis="y", direction="in", length=6.5, width=0.7, colors=AX_BLUE,
                   labelsize=9.2, pad=7.4)
    ax.set_xlabel("UTC hours on 20241024", fontsize=11.2, color=DARK)
    ax.xaxis.set_label_coords(0.5, -0.100)
    ax.set_ylabel(ylabel, fontsize=11.2, color=AX_BLUE)
    ax.yaxis.set_label_coords(-0.041, 0.5)


def add_legend(ax, handles, labels, x, y):
    return ax.legend(handles, labels, loc="upper left", bbox_to_anchor=(x, y),
                     frameon=False, fontsize=9.3, handlelength=6.0, handletextpad=0.6,
                     labelspacing=0.50, borderpad=0, borderaxespad=0)


def bt_panel(ax, phy, err, mwr2, mwr3, ylim, yticks, ylabel, labels, legx):
    phy = np.asarray(phy, float)
    err = np.asarray(err, float)
    fill_band(ax, phy - err, phy + err, ORANGE)
    h2, = ax.plot(HOURS, mwr2, color=BLUE, lw=1.0, zorder=2)
    h3, = ax.plot(HOURS, mwr3, color=LIGHTBLUE, lw=1.3, zorder=2)
    hp, = ax.plot(HOURS, phy, color=ORANGE, lw=2.1, zorder=2)
    setup(ax, ylim, yticks, ylabel)
    return add_legend(ax, [h2, h3, hp], labels, legx, 0.912)


fig = plt.figure(figsize=(12.75, 20), dpi=300)
axes = [fig.add_axes([LEFT, b, WIDTH, HEIGHT]) for b in BOTTOMS]

# 23 GHz
bt_panel(axes[0], BT23_PHY, BT23_ERR, BT23_2C, BT23_3C, (18.14, 29.62), [20, 22, 24, 26, 28],
         "Zenith BT 23 GHz, K", ["MWR 2C (tan = wet window)", "MWR 3C", "Phy-Iter"], 0.595)

# 31 GHz
bt_panel(axes[1], BT31_PHY, BT31_ERR, BT31_2C, BT31_3C, (12.69, 27.79),
         [14, 16, 18, 20, 22, 24, 26], "Zenith BT 31 GHz, K",
         ["MWR2C", "MWR 3C (tan = rain flag)", "Phy-Iter"], 0.607)

# PWV
ax = axes[2]
pwv = np.asarray(PWV_PHY, float)
perr = np.asarray(PWV_ERR, float)
fill_band(ax, pwv - perr, pwv + perr, ORANGE)
h2, = ax.plot(HOURS, PWV_2C, color=BLUE, lw=1.0, zorder=2)
h3, = ax.plot(HOURS, PWV_3C, color=LIGHTBLUE, lw=1.3, zorder=2)
hp, = ax.plot(HOURS, pwv, color=ORANGE, lw=2.1, zorder=2)
only = ["tan" if m in TAN_MINUTES else "brown" if m in BROWN_MINUTES else None for m in MINUTE]
shade_minutes(ax, only, {"tan": "#D2B48C", "brown": "#A52A2A"})
setup(ax, (0.8317, 1.7155), [0.9, 1.0, 1.1, 1.2, 1.3, 1.4, 1.5, 1.6, 1.7],
      "Precip. Water Vapor, mm")
leg = add_legend(ax, [h2, h3, hp], ["MWR 2C PWV", "MWR 3C PWV",
                 "Phy-Iter PWV\n(tan = MWR 2C only)\n(brown = MWR 3C only)"], 0.696, 0.894)
leg.get_texts()[2].set_linespacing(1.6)

# LWP
ax = axes[3]
fill_band(ax, LWP_PHY_LO, LWP_PHY_HI, ORANGE)
fill_band(ax, LWP_ADI_LO, LWP_ADI_HI, PURPLE)
h2, = ax.plot(HOURS, LWP_2C, color=BLUE, lw=1.0, zorder=2)
h3, = ax.plot(HOURS, LWP_3C, color=LIGHTBLUE, lw=1.3, zorder=2)
hp, = ax.plot(HOURS, LWP_PHY, color=ORANGE, lw=2.1, zorder=2)
ha, = ax.plot(HOURS, LWP_ADI, color=PURPLE, lw=1.2, zorder=2)
mark_isolated(ax, LWP_PHY, ORANGE)
mark_isolated(ax, LWP_ADI, PURPLE)
quality = ["clear" if f == 5 else "flag" if f in (3, 4) else None for f in DQ_FLAG]
shade_minutes(ax, quality, {"clear": "yellow", "flag": "#CCCCCC"})
setup(ax, (-0.102, 3.252), [0, 0.5, 1, 1.5, 2, 2.5, 3],
      r"log10 Liquid Water Path, log10(g/m$^2$)")
add_legend(ax, [h2, h3, hp, ha], ["MWR 2C LWP", "MWR 3C LWP", "Phy-Iter LWP", "Adiabatic LWP"],
           0.399, 0.946)

# DQ flag
ax = axes[4]
ax.plot(HOURS, DQ_FLAG, "o", color=ORANGE, ms=1.8, mew=0, clip_on=False, zorder=2)
setup(ax, (-0.5, 11.5), [0, 2, 4, 6, 8, 10], "MWR Phy Iter DQ Flag")

fig.savefig("out.png", dpi=300)
